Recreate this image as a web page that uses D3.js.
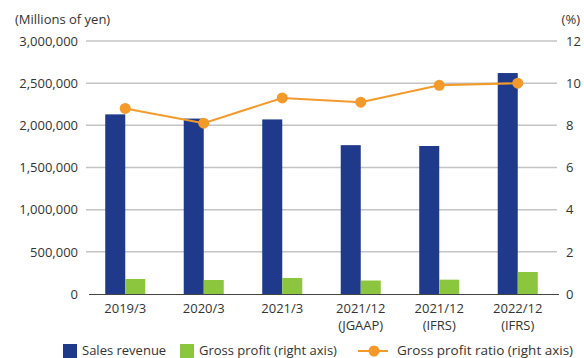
<!DOCTYPE html>
<html>
<head>
<meta charset="utf-8">
<script src="https://cdn.jsdelivr.net/npm/d3@7"></script>
<style>
  html, body { margin: 0; padding: 0; background: #fff; }
  svg { display: block; font-family: "Open Sans", "Noto Sans", sans-serif; }
  text { fill: #333; }
</style>
</head>
<body>
<svg id="chart" width="584" height="358"></svg>
<script>
// Fiscal periods (second line of label shown under the first)
const periods = ["2019/3", "2020/3", "2021/3", "2021/12", "2021/12", "2022/12"];
const periodNotes = ["", "", "", "(JGAAP)", "(IFRS)", "(IFRS)"];

// Millions of yen
const salesRevenue = [2130000, 2080000, 2070000, 1765000, 1755000, 2620000];
const grossProfit = [178000, 166000, 190000, 160000, 170000, 261000];
// Percent
const grossProfitRatio = [8.8, 8.1, 9.3, 9.1, 9.9, 10.0];

const leftTicks = [0, 500000, 1000000, 1500000, 2000000, 2500000, 3000000];
const rightTicks = [0, 2, 4, 6, 8, 10, 12];

const colors = { sales: "#1f3a8a", profit: "#8cc63f", ratio: "#f39a2b" };

const svg = d3.select("#chart");
const plot = { left: 86, right: 557, top: 41, bottom: 294 };

const x = d3.scaleBand()
  .domain(d3.range(periods.length))
  .range([plot.left, plot.right])
  .paddingInner(0.49)
  .paddingOuter(0.245);
const xSeries = d3.scaleBand().domain(["sales", "profit"]).range([0, x.bandwidth()]);

const yLeft = d3.scaleLinear().domain([0, 3000000]).range([plot.bottom, plot.top]);
const yRight = d3.scaleLinear().domain([0, 12]).range([plot.bottom, plot.top]);

// Gridlines
svg.append("g")
  .selectAll("line")
  .data(leftTicks.filter(d => d > 0))
  .join("line")
  .attr("x1", plot.left).attr("x2", plot.right)
  .attr("y1", d => yLeft(d)).attr("y2", d => yLeft(d))
  .attr("stroke", "#c4c4c4").attr("stroke-width", 1.5);

// Left axis labels
const leftAxis = d3.axisLeft(yLeft).tickValues(leftTicks)
  .tickFormat(d3.format(",")).tickSize(0).tickPadding(8);
svg.append("g").attr("transform", `translate(${plot.left},0)`).call(leftAxis)
  .call(g => g.select(".domain").remove())
  .call(g => g.selectAll("text").attr("fill", "#333").style("font-size", "13px")
    .style("font-family", "'Open Sans', sans-serif"));

// Right axis labels
const rightAxis = d3.axisRight(yRight).tickValues(rightTicks).tickSize(0).tickPadding(9);
svg.append("g").attr("transform", `translate(${plot.right},0)`).call(rightAxis)
  .call(g => g.select(".domain").remove())
  .call(g => g.selectAll("text").attr("fill", "#333").style("font-size", "13px")
    .style("font-family", "'Open Sans', sans-serif"));

// Unit captions
svg.append("text").attr("x", 15).attr("y", 24).style("font-size", "13px").text("(Millions of yen)");
svg.append("text").attr("x", 580).attr("y", 24).attr("text-anchor", "end").style("font-size", "13px").text("(%)");

// Bars
const groups = svg.append("g").selectAll("g")
  .data(periods.map((p, i) => i))
  .join("g")
  .attr("transform", i => `translate(${x(i)},0)`);

groups.append("rect")
  .attr("x", xSeries("sales"))
  .attr("width", xSeries.bandwidth())
  .attr("y", i => yLeft(salesRevenue[i]))
  .attr("height", i => yLeft(0) - yLeft(salesRevenue[i]))
  .attr("fill", colors.sales);

groups.append("rect")
  .attr("x", xSeries("profit"))
  .attr("width", xSeries.bandwidth())
  .attr("y", i => yLeft(grossProfit[i]))
  .attr("height", i => yLeft(0) - yLeft(grossProfit[i]))
  .attr("fill", colors.profit);

// Baseline
svg.append("line")
  .attr("x1", 89).attr("x2", 559)
  .attr("y1", plot.bottom + 0.5).attr("y2", plot.bottom + 0.5)
  .attr("stroke", "#444").attr("stroke-width", 1);

// Category labels
const cx = i => x(i) + x.bandwidth() / 2;
const catLabels = svg.append("g").selectAll("text")
  .data(periods.map((p, i) => i))
  .join("text")
  .attr("x", cx)
  .attr("y", 313)
  .attr("text-anchor", "middle")
  .style("font-size", "13px");
catLabels.append("tspan").text(i => periods[i]);
catLabels.append("tspan").attr("x", cx).attr("dy", 17).text(i => periodNotes[i]);

// Ratio line
const line = d3.line().x((d, i) => cx(i)).y(d => yRight(d));
svg.append("path")
  .datum(grossProfitRatio)
  .attr("d", line)
  .attr("fill", "none")
  .attr("stroke", colors.ratio)
  .attr("stroke-width", 2);
svg.append("g").selectAll("circle")
  .data(grossProfitRatio)
  .join("circle")
  .attr("cx", (d, i) => cx(i))
  .attr("cy", d => yRight(d))
  .attr("r", 5.5)
  .attr("fill", colors.ratio);

// Legend
const legend = svg.append("g");
legend.append("rect").attr("x", 63).attr("y", 344).attr("width", 14).attr("height", 14).attr("fill", colors.sales);
legend.append("text").attr("x", 82).attr("y", 354.5).style("font-size", "13px").text("Sales revenue");
legend.append("rect").attr("x", 180).attr("y", 344).attr("width", 14).attr("height", 14).attr("fill", colors.profit);
legend.append("text").attr("x", 199).attr("y", 354.5).style("font-size", "13px").text("Gross profit (right axis)");
legend.append("line").attr("x1", 358).attr("x2", 388).attr("y1", 351).attr("y2", 351)
  .attr("stroke", colors.ratio).attr("stroke-width", 2);
legend.append("circle").attr("cx", 374).attr("cy", 351).attr("r", 5.5).attr("fill", colors.ratio);
legend.append("text").attr("x", 397).attr("y", 354.5).style("font-size", "13.5px").text("Gross profit ratio (right axis)");
</script>
</body>
</html>
